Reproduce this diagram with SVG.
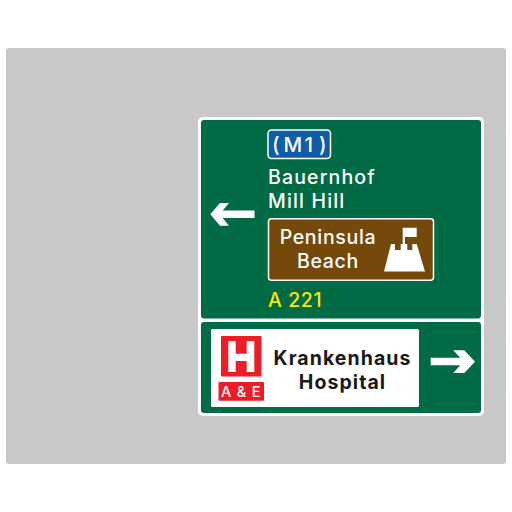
<svg xmlns="http://www.w3.org/2000/svg" width="512" height="512" viewBox="0 0 512 512">
<style>
text{font-family:"Inter","Liberation Sans",sans-serif;font-weight:500}
.w{fill:#fff}
.g{fill:#006b44}
.r{fill:#ee1c25}
.l{font-size:19.500px;letter-spacing:1.150px}
.b{font-size:19.500px;letter-spacing:.7px;text-anchor:middle}
.k{font-size:19.500px;letter-spacing:1.050px;fill:#1a1a1a;font-weight:700;text-anchor:middle}
</style>
<rect width="512" height="512" fill="#fff"/>
<rect x="6" y="48" width="500" height="416" rx="3" fill="#c8c8c8"/>
<g id="sign-panel">
<rect class="w" x="198" y="117" width="286" height="299" rx="5"/>
<rect class="g" x="201" y="120" width="280" height="198.500" rx="3"/>
<rect class="g" x="201" y="322" width="280" height="91" rx="3"/>
</g>
<g id="motorway-shield">
<rect x="268" y="130" width="62.500" height="28.500" rx="3.500" fill="#0f5ca8" stroke="#fff" stroke-width="1.500"/>
<text class="w" x="272 283.500 304.500 319" y="151.800" font-size="20.500">(M1)</text>
</g>
<g id="destinations">
<text class="w l" x="268" y="184">Bauernhof</text>
<text class="w l" x="268" y="208">Mill Hill</text>
</g>
<g id="left-arrow">
<path class="w" d="M210.300 214.300L220 203H229L222.700 210.400H254.500V218H222.700L229 225.700H220Z"/>
</g>
<g id="tourist-sign">
<rect x="268.500" y="218.700" width="165" height="61.500" rx="3" fill="#74490a" stroke="#fff" stroke-width="1.500"/>
<text class="w b" x="328" y="244">Peninsula</text>
<text class="w b" x="328" y="268">Beach</text>
<path class="w" d="M384 271.500L391 244H395V250H400.700V244H402.700V227.700H416.700V237H405V244H407.300V250H412.300V244H416.700L425 271.500Z"/>
</g>
<g id="road-number">
<text x="268" y="307" font-size="19.500" font-weight="600" letter-spacing=".6" fill="#ffe600">A 221</text>
</g>
<g id="hospital-panel">
<rect class="w" x="211" y="329" width="208" height="78" rx="1.500"/>
<rect class="r" x="221" y="336" width="40.500" height="40.500" rx="1"/>
<path class="w" d="M228.300 341.300H235.700V353.700H246.700V341.300H254.300V372H246.700V361H235.700V372H228.300Z"/>
<rect class="r" x="218.500" y="382" width="45.500" height="18.700" rx="1"/>
<text class="w" x="241.200" y="396.700" font-size="14.500" letter-spacing=".8" text-anchor="middle">A &amp; E</text>
<text class="k" x="342.500" y="365">Krankenhaus</text>
<text class="k" x="342.500" y="389">Hospital</text>
</g>
<g id="right-arrow">
<path class="w" d="M475 361.700L464.300 350.300H453.300L460.200 357.800H430.700V365.300H460.200L453.300 373H464.300Z"/>
</g>
</svg>
